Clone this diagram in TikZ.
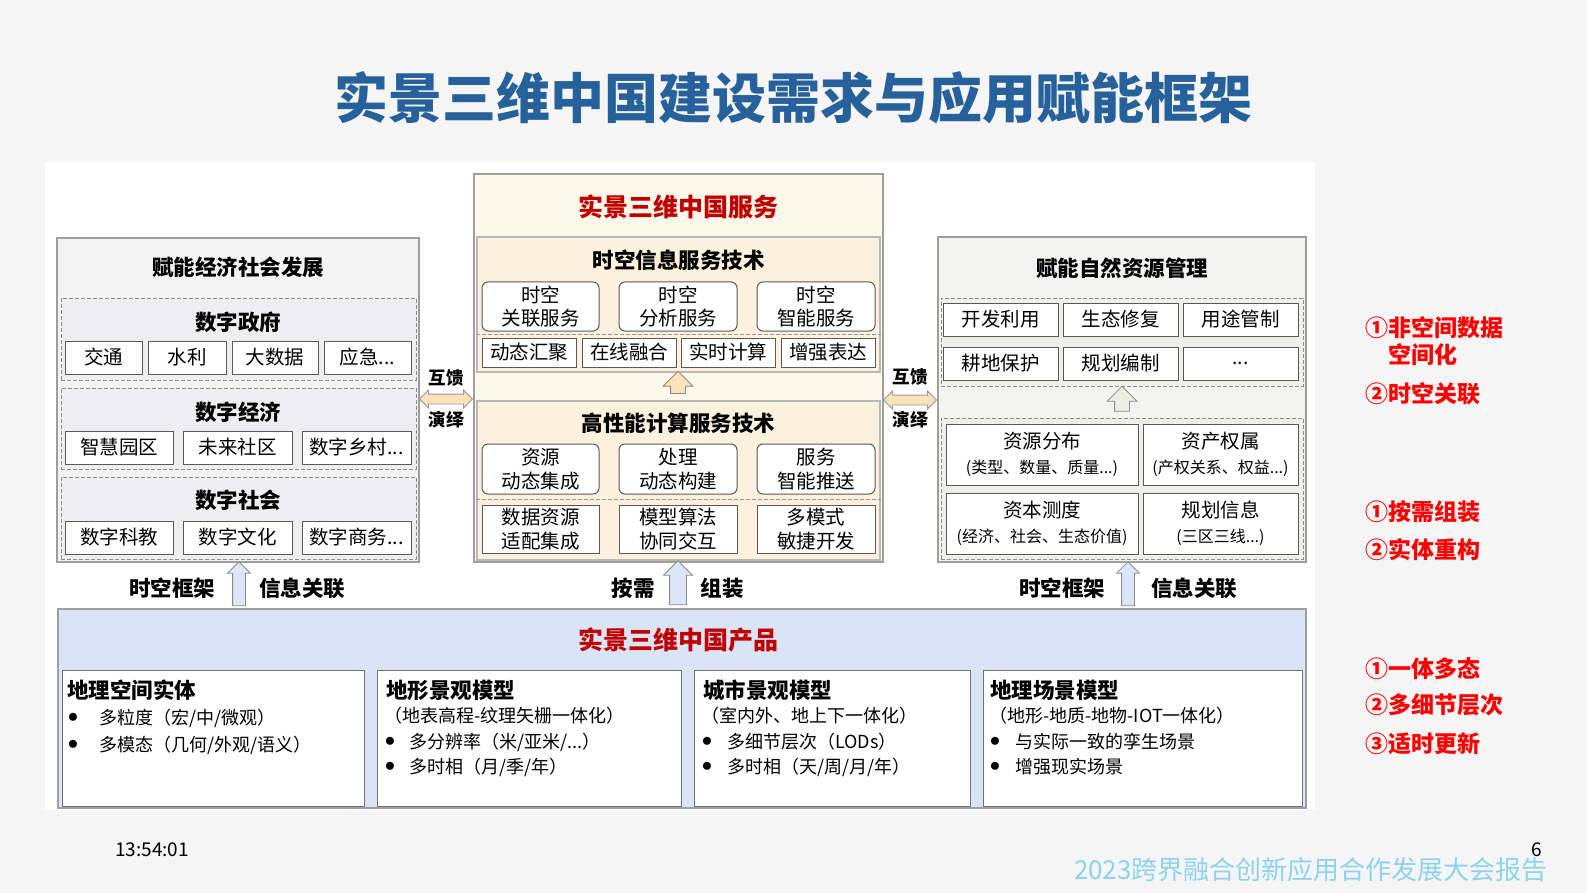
\documentclass[tikz,border=0pt]{standalone}
\usepackage{fontspec}
\setmainfont{Noto Sans CJK SC}
\usetikzlibrary{shapes.arrows}
\newcommand{\fsz}[2]{\fontsize{#1}{#2}\selectfont}
\definecolor{titleblue}{HTML}{26619C}
\definecolor{darkred}{HTML}{C00000}
\definecolor{notered}{HTML}{FF0000}
\definecolor{lpfill}{HTML}{F3F3F3}
\definecolor{ldfill}{HTML}{EEEEF0}
\definecolor{cpfill}{HTML}{FEF8EA}
\definecolor{csfill}{HTML}{FCF1DC}
\definecolor{rpfill}{HTML}{F3F3EF}
\definecolor{rdfill}{HTML}{EFEFEA}
\definecolor{pbfill}{HTML}{DAE4F7}
\definecolor{arrblue}{HTML}{DCE6F8}
\definecolor{arrtan}{HTML}{FBE2BA}
\definecolor{arrgray}{HTML}{EDEDE3}
\definecolor{footblue}{HTML}{8DD3F0}

\begin{document}
\begin{tikzpicture}[x=1pt, y=-1pt]
	\tikzset{panel/.style={draw=black!38, line width=1.2pt, inner sep=0pt},
		dbox/.style={draw=black!45, dash pattern=on 4pt off 2pt, line width=0.8pt, inner sep=0pt},
		cell/.style={draw=black!65, fill=white, line width=1pt, inner sep=0pt, align=center, font=\fsz{19.5}{23.5}},
		rcell/.style={cell, rounded corners=6pt},
		hd/.style={inner sep=0pt, font=\fsz{21.5}{24}\bfseries},
		redhd/.style={inner sep=0pt, text=darkred, font=\fsz{25}{28}\bfseries},
		txt/.style={inner sep=0pt, anchor=west, font=\fsz{18}{20}},
		dot/.style={inner sep=0pt, font=\fsz{20}{20}},
		note/.style={inner sep=0pt, anchor=west, text=notered, font=\fsz{23}{26}\bfseries},
		uparr/.style={single arrow, draw=black!45, line width=0.8pt, shape border rotate=90, single arrow head extend=5pt},
		lrarr/.style={double arrow, draw=black!40, fill=arrtan, line width=0.8pt, inner sep=4.5pt, double arrow head extend=4pt, minimum height=53pt},
		sepline/.style={draw=black!40, dash pattern=on 4pt off 2pt, line width=0.8pt}}
	
	\useasboundingbox (0,0) rectangle (1587,893);
	\fill[black!4] (0,0) rectangle (1587,893);
	\fill[white] (45,162) rectangle (1315,810);
	
	\node[inner sep=0pt, text=titleblue, font=\fsz{54}{60}\bfseries] (title) at (793,98) {实景三维中国建设需求与应用赋能框架};
	
	% left: economy and society
	\node[panel, fill=lpfill, minimum width=362pt, minimum height=324pt] (left) at (238,400) {};
	\node[hd] (left_t) at (238,267) {赋能经济社会发展};
	\node[dbox, fill=ldfill, minimum width=355pt, minimum height=82pt] (gov) at (238.5,339) {};
	\node[hd] (gov_t) at (238,322) {数字政府};
	\node[cell, minimum width=77pt, minimum height=33pt] (gov_1) at (103.5,357.5) {交通};
	\node[cell, minimum width=78pt, minimum height=33pt] (gov_2) at (187,357.5) {水利};
	\node[cell, minimum width=86pt, minimum height=33pt] (gov_3) at (275,357.5) {大数据};
	\node[cell, minimum width=87pt, minimum height=33pt] (gov_4) at (367.5,357.5) {应急...};
	\node[dbox, fill=ldfill, minimum width=355pt, minimum height=81pt] (eco) at (238.5,428.5) {};
	\node[hd] (eco_t) at (238,412) {数字经济};
	\node[cell, minimum width=108pt, minimum height=33pt] (eco_1) at (119,447.5) {智慧园区};
	\node[cell, minimum width=109pt, minimum height=33pt] (eco_2) at (237.5,447.5) {未来社区};
	\node[cell, minimum width=109pt, minimum height=33pt] (eco_3) at (356.5,447.5) {数字乡村...};
	\node[dbox, fill=ldfill, minimum width=355pt, minimum height=82pt] (soc) at (238.5,518) {};
	\node[hd] (soc_t) at (238,500) {数字社会};
	\node[cell, minimum width=108pt, minimum height=33pt] (soc_1) at (119,537.5) {数字科教};
	\node[cell, minimum width=109pt, minimum height=33pt] (soc_2) at (237.5,537.5) {数字文化};
	\node[cell, minimum width=109pt, minimum height=33pt] (soc_3) at (356.5,537.5) {数字商务...};
	
	% centre: services
	\node[panel, fill=cpfill, minimum width=409pt, minimum height=388pt] (svc) at (678.5,368) {};
	\node[redhd] (svc_t) at (678,207) {实景三维中国服务};
	\node[panel, draw=black!28, fill=csfill, minimum width=403pt, minimum height=135pt] (svc_a) at (678.5,304.5) {};
	\node[hd] (svc_a_t) at (678.5,260) {时空信息服务技术};
	\node[rcell, minimum width=117pt, minimum height=49pt] (svc_a1) at (540.5,306.5) {时空\\关联服务};
	\node[rcell, minimum width=118pt, minimum height=49pt] (svc_a2) at (678,306.5) {时空\\分析服务};
	\node[rcell, minimum width=118pt, minimum height=49pt] (svc_a3) at (816,306.5) {时空\\智能服务};
	\draw[sepline] (svc_a.west |- 0,334) -- (svc_a.east |- 0,334);
	\node[cell, minimum width=94pt, minimum height=29pt] (svc_a4) at (529,352.5) {动态汇聚};
	\node[cell, minimum width=94pt, minimum height=29pt] (svc_a5) at (629,352.5) {在线融合};
	\node[cell, minimum width=94pt, minimum height=29pt] (svc_a6) at (728,352.5) {实时计算};
	\node[cell, minimum width=94pt, minimum height=29pt] (svc_a7) at (828,352.5) {增强表达};
	\node[panel, draw=black!28, fill=csfill, minimum width=403pt, minimum height=159pt] (svc_b) at (678.5,480.5) {};
	\node[uparr, fill=arrtan, inner sep=7pt, single arrow head extend=7.5pt, minimum height=22pt] (svc_up) at (678,386) {};
	\node[hd] (svc_b_t) at (678.5,423) {高性能计算服务技术};
	\node[rcell, minimum width=117pt, minimum height=50pt] (svc_b1) at (540.5,469) {资源\\动态集成};
	\node[rcell, minimum width=118pt, minimum height=50pt] (svc_b2) at (678,469) {处理\\动态构建};
	\node[rcell, minimum width=118pt, minimum height=50pt] (svc_b3) at (816,469) {服务\\智能推送};
	\draw[sepline] (svc_b.west |- 0,499) -- (svc_b.east |- 0,499);
	\node[cell, minimum width=117pt, minimum height=48pt] (svc_b4) at (540.5,529) {数据资源\\适配集成};
	\node[cell, minimum width=118pt, minimum height=48pt] (svc_b5) at (678,529) {模型算法\\协同交互};
	\node[cell, minimum width=118pt, minimum height=48pt] (svc_b6) at (816,529) {多模式\\敏捷开发};
	
	% right: natural resources
	\node[panel, fill=rpfill, minimum width=368pt, minimum height=325pt] (nat) at (1122,399.5) {};
	\node[hd] (nat_t) at (1122,268) {赋能自然资源管理};
	\node[dbox, fill=rdfill, minimum width=362pt, minimum height=88pt] (nat_a) at (1122,342) {};
	\node[cell, minimum width=115pt, minimum height=33pt] (nat_a1) at (1000.5,319.5) {开发利用};
	\node[cell, minimum width=115pt, minimum height=33pt] (nat_a2) at (1120.5,319.5) {生态修复};
	\node[cell, minimum width=115pt, minimum height=33pt] (nat_a3) at (1240.5,319.5) {用途管制};
	\node[cell, minimum width=115pt, minimum height=33pt] (nat_a4) at (1000.5,363.5) {耕地保护};
	\node[cell, minimum width=115pt, minimum height=33pt] (nat_a5) at (1120.5,363.5) {规划编制};
	\node[cell, minimum width=115pt, minimum height=33pt] (nat_a6) at (1240.5,363.5) {...};
	\node[uparr, fill=arrgray, inner sep=7pt, single arrow head extend=7.5pt, minimum height=25pt] (nat_up) at (1122,402.5) {};
	\node[dbox, fill=rdfill, minimum width=362pt, minimum height=141pt] (nat_b) at (1122,488.5) {};
	\node[cell, minimum width=192pt, minimum height=61pt] (nat_b1) at (1042,454.5) {资源分布\\[1pt]\fsz{16}{18}(类型、数量、质量...)};
	\node[cell, minimum width=155pt, minimum height=61pt] (nat_b2) at (1220.5,454.5) {资产权属\\[1pt]\fsz{16}{18}(产权关系、权益...)};
	\node[cell, minimum width=192pt, minimum height=61pt] (nat_b3) at (1042,523.5) {资本测度\\[1pt]\fsz{16}{18}(经济、社会、生态价值)};
	\node[cell, minimum width=155pt, minimum height=61pt] (nat_b4) at (1220.5,523.5) {规划信息\\[1pt]\fsz{16}{18}(三区三线...)};
	
	% mutual links
	\node[lrarr] (link_l) at (446,399) {};
	\node[hd, font=\fsz{17.5}{20}\bfseries] (link_l1) at (446,378) {互馈};
	\node[hd, font=\fsz{17.5}{20}\bfseries] (link_l2) at (446,420) {演绎};
	\node[lrarr] (link_r) at (910,400) {};
	\node[hd, font=\fsz{17.5}{20}\bfseries] (link_r1) at (910,377) {互馈};
	\node[hd, font=\fsz{17.5}{20}\bfseries] (link_r2) at (910,420) {演绎};
	
	% products
	\node[panel, fill=pbfill, minimum width=1248pt, minimum height=199pt] (prod) at (682,708.5) {};
	\node[redhd] (prod_t) at (678,640) {实景三维中国产品};
	\node[cell, draw=black!55, minimum width=302pt, minimum height=136pt] (prod_1) at (213,738) {};
	\node[cell, draw=black!55, minimum width=304pt, minimum height=136pt] (prod_2) at (529,738) {};
	\node[cell, draw=black!55, minimum width=276pt, minimum height=136pt] (prod_3) at (832,738) {};
	\node[cell, draw=black!55, minimum width=319pt, minimum height=136pt] (prod_4) at (1142.5,738) {};
	
	\node[hd, anchor=west] (p1_t) at (67,690) {地理空间实体};
	\node[dot] (p1_b1) at (73,718) {$\bullet$};
	\node[txt] (p1_1) at (99,718) {多粒度（宏/中/微观）};
	\node[dot] (p1_b2) at (73,745) {$\bullet$};
	\node[txt] (p1_2) at (99,745) {多模态（几何/外观/语义）};
	
	\node[hd, anchor=west] (p2_t) at (386,690) {地形景观模型};
	\node[txt] (p2_0) at (384,716) {（地表高程-纹理矢栅一体化）};
	\node[dot] (p2_b1) at (390,742) {$\bullet$};
	\node[txt] (p2_1) at (409,742) {多分辨率（米/亚米/...）};
	\node[dot] (p2_b2) at (390,767) {$\bullet$};
	\node[txt] (p2_2) at (409,767) {多时相（月/季/年）};
	
	\node[hd, anchor=west] (p3_t) at (703,690) {城市景观模型};
	\node[txt] (p3_0) at (701,716) {（室内外、地上下一体化）};
	\node[dot] (p3_b1) at (707,742) {$\bullet$};
	\node[txt] (p3_1) at (727,742) {多细节层次（LODs）};
	\node[dot] (p3_b2) at (707,767) {$\bullet$};
	\node[txt] (p3_2) at (727,767) {多时相（天/周/月/年）};
	
	\node[hd, anchor=west] (p4_t) at (990,690) {地理场景模型};
	\node[txt] (p4_0) at (989,716) {（地形-地质-地物-IOT一体化）};
	\node[dot] (p4_b1) at (995,742) {$\bullet$};
	\node[txt] (p4_1) at (1015,742) {与实际一致的孪生场景};
	\node[dot] (p4_b2) at (995,767) {$\bullet$};
	\node[txt] (p4_2) at (1015,767) {增强现实场景};
	
	% up arrows into the panels
	\node[uparr, fill=arrblue, inner sep=6pt, minimum height=44pt] (up_l) at (239,587) {};
	\node[hd] (up_l1) at (172,588) {时空框架};
	\node[hd] (up_l2) at (302,588) {信息关联};
	\node[uparr, fill=arrblue, inner sep=8pt, single arrow head extend=6pt, minimum height=44pt] (up_c) at (678,587) {};
	\node[hd] (up_c1) at (633,588) {按需};
	\node[hd] (up_c2) at (722,588) {组装};
	\node[uparr, fill=arrblue, inner sep=6pt, minimum height=44pt] (up_r) at (1128,587) {};
	\node[hd] (up_r1) at (1062,588) {时空框架};
	\node[hd] (up_r2) at (1194,588) {信息关联};
	
	% notes
	\node[note] (n_1) at (1365,328) {①非空间数据};
	\node[note] (n_1b) at (1388,355) {空间化};
	\node[note] (n_2) at (1365,394) {②时空关联};
	\node[note] (n_3) at (1365,512) {①按需组装};
	\node[note] (n_4) at (1365,550) {②实体重构};
	\node[note] (n_5) at (1365,669) {①一体多态};
	\node[note] (n_6) at (1365,705) {②多细节层次};
	\node[note] (n_7) at (1365,744) {③适时更新};
	
	% footer
	\node[inner sep=0pt, font=\fsz{19}{20}] (time) at (152,850) {13:54:01};
	\node[inner sep=0pt, font=\fsz{19}{20}] (page) at (1537,850) {6};
	\node[inner sep=0pt, anchor=east, text=footblue, font=\fsz{26}{28}] (foot) at (1548,870) {2023跨界融合创新应用合作发展大会报告};
\end{tikzpicture}
\end{document}
